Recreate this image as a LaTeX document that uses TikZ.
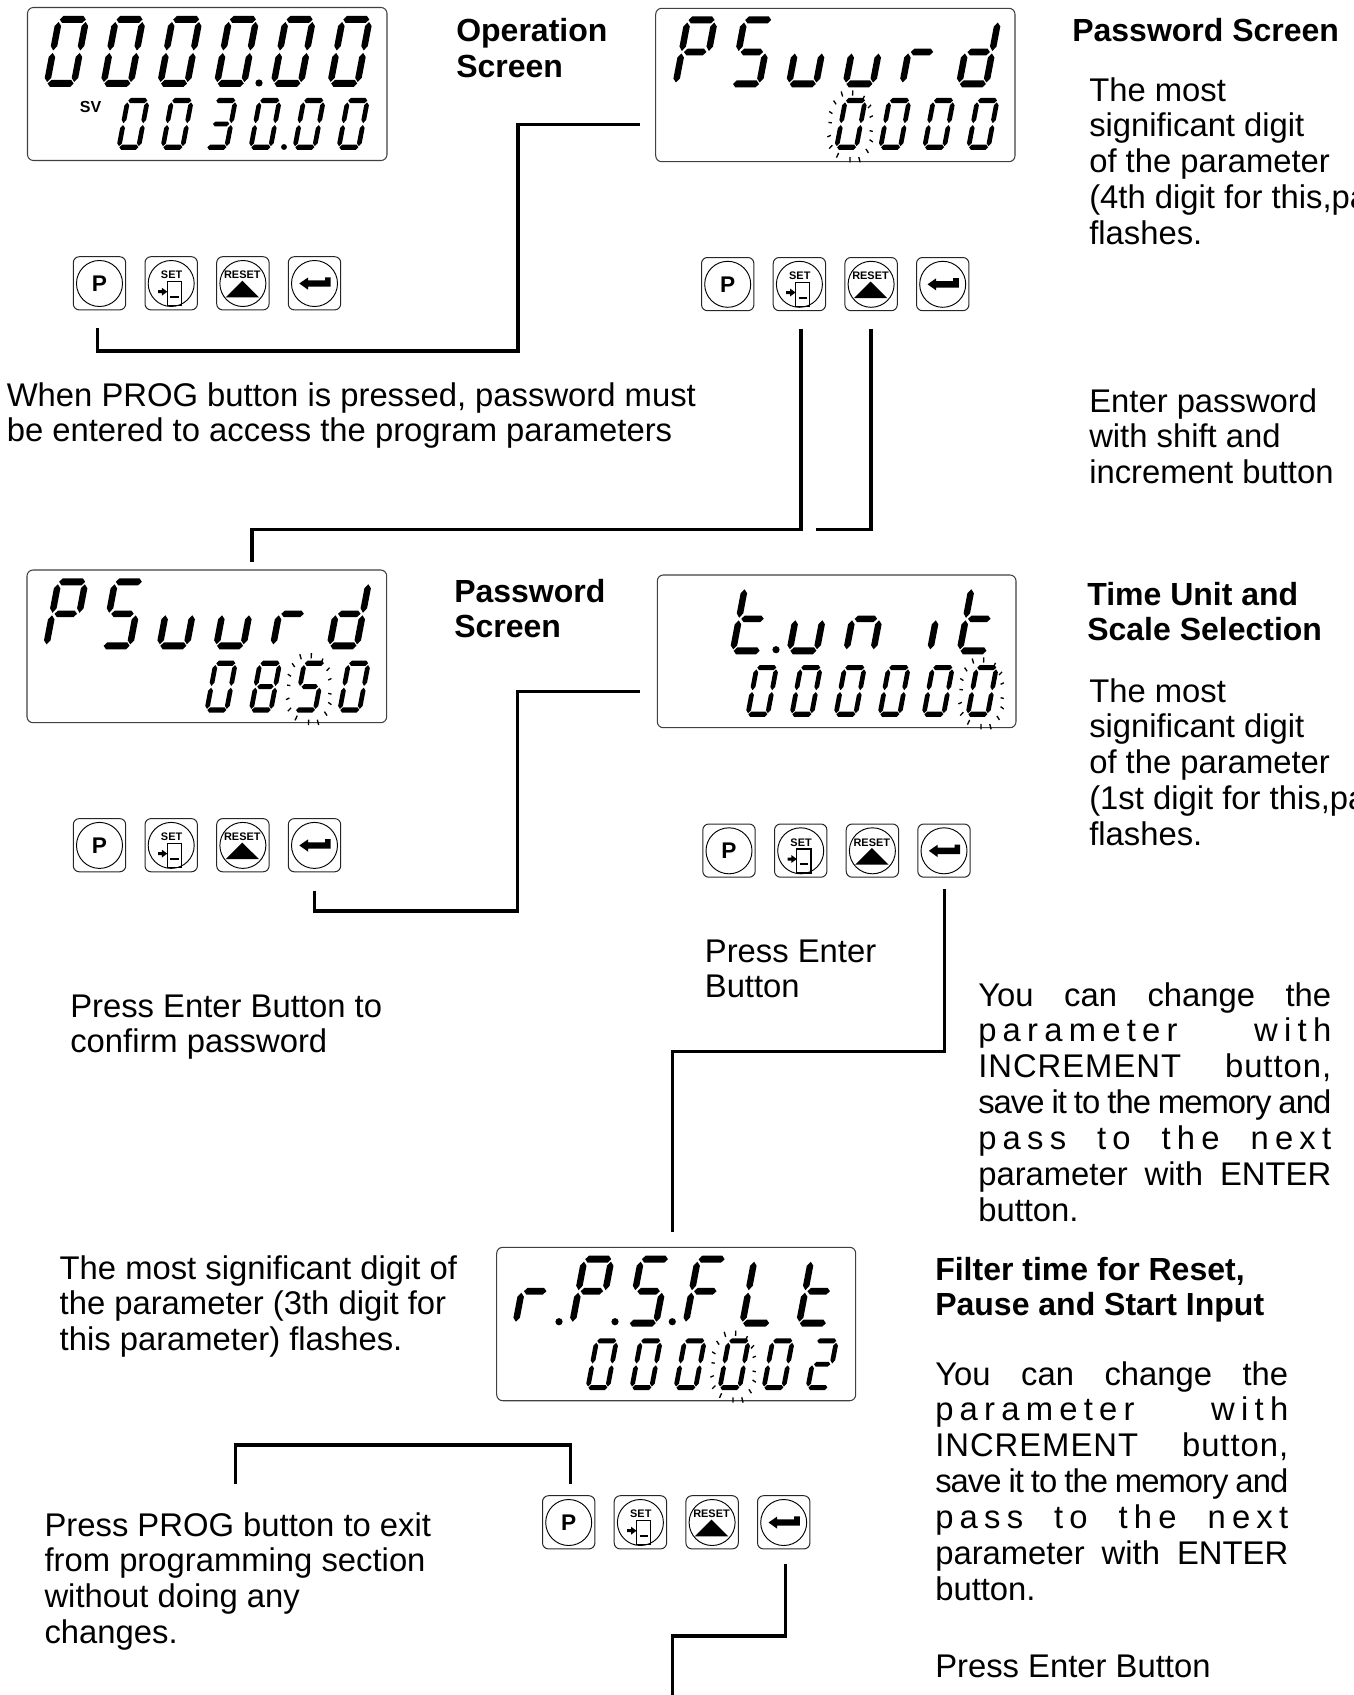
\documentclass[tikz,border=0pt]{standalone}
\usepackage{fontspec}
\setmainfont{Liberation Sans}
\tikzset{
  x=0.75pt,y=-0.75pt,
  segfill/.style={fill=black},
  ray/.style={draw=black,line width=1pt},
  lcdframe/.style={draw=black!75,line width=0.8pt,rounded corners=4.5pt},
  btnframe/.style={draw=black!85,line width=0.75pt,rounded corners=4.5pt},
  btncircle/.style={draw=black,line width=0.7pt},
  conn/.style={draw=black,line width=2.5pt,line join=miter},
  txt/.style={anchor=base west,inner sep=0pt,font=\fontsize{24.6}{30}\selectfont},
  btxt/.style={anchor=base west,inner sep=0pt,font=\fontsize{24}{30}\selectfont\bfseries},
  lbl/.style={inner sep=0pt,font=\fontsize{8.2}{10}\selectfont\bfseries},
  plbl/.style={inner sep=0pt,font=\fontsize{17}{20}\selectfont\bfseries},
}
\newcommand\sga{\fill[segfill] (4,3.5)--(7,0)--(27,0)--(30,3.5)--(27,7)--(7,7)--cycle;}
\newcommand\sgd{\fill[segfill] (4,67.5)--(7,64)--(27,64)--(30,67.5)--(27,71)--(7,71)--cycle;}
\newcommand\sgg{\fill[segfill] (5.5,35.5)--(8.5,32.2)--(25,32.2)--(28,35.5)--(25,38.8)--(8.5,38.8)--cycle;}
\newcommand\sgf{\fill[segfill] (3.25,6)--(6.5,10)--(6.5,30)--(3.25,34.5)--(0,30)--(0,10)--cycle;}
\newcommand\sge{\fill[segfill] (3.25,37)--(6.5,41)--(6.5,62)--(3.25,66)--(0,62)--(0,41)--cycle;}
\newcommand\sgb{\fill[segfill] (30.25,6)--(33.5,10)--(33.5,30)--(30.25,34.5)--(27,30)--(27,10)--cycle;}
\newcommand\sgc{\fill[segfill] (30.25,37)--(33.5,41)--(33.5,62)--(30.25,66)--(27,62)--(27,41)--cycle;}
\newcommand\glyO{\sga\sgb\sgc\sgd\sge\sgf}
\newcommand\glyT{\sga\sgb\sgg\sgc\sgd}
\newcommand\glyE{\sga\sgb\sgc\sgd\sge\sgf\sgg}
\newcommand\glyTw{\sga\sgb\sgg\sge\sgd}
\newcommand\glyP{\sga\sgb\sgf\sgg\sge}
\newcommand\glyS{\sga\sgf\sgg\sgc\sgd}
\newcommand\glyu{\sge\sgd\sgc}
\newcommand\glyr{\sge\sgg}
\newcommand\glyd{\sgb\sgc\sgd\sge\sgg}
\newcommand\glyt{\sgf\sge\sgg\sgd}
\newcommand\glyn{\sge\sgg\sgc}
\newcommand\glyi{\sgc}
\newcommand\glyF{\sga\sgf\sgg\sge}
\newcommand\glyL{\sgf\sge\sgd}
% row: x0, pitch, y, scale, glyph list
\newcommand\lcdrow[5]{%
  \foreach \gl [count=\i from 0] in {#5}{%
    \begin{scope}[shift={({#1+\i*#2},{#3+71*#4})},scale=#4,xslant=0.19,shift={(0,-71)}]
      \gl
    \end{scope}
  }%
}
\newcommand\flash[2]{%
  \foreach \dx/\dy in {-27/-95,5/-98,37/-83,55/-58,60/-28,60/15,60/44,48/74,25/100,-3/100,-40/87,-60/62,-65/30,-62/-10,-60/-40,-48/-70}{%
    \draw[ray] ({#1+\dx/3*0.93},{#2+\dy/3*0.93}) -- ({#1+\dx/3*1.09},{#2+\dy/3*1.09});
  }%
}
\newcommand\btnrow[3]{%
  \begin{scope}[shift={(#2,#3)}]
    \foreach \o in {0,71.7,143.4,215}{%
      \draw[btnframe] (\o,0) rectangle ({\o+52.4},53.2);
      \draw[btncircle] ({\o+26.2},26.8) circle[radius=23*0.75pt];
    }
    \node[plbl] (#1p) at (26.2,27) {P};
    \node[lbl] (#1s) at (98.3,18.3) {SET};
    \draw[line width=1pt,draw=black] (94,25) rectangle (108.3,49);
    \draw[line width=1.5pt,draw=black] (97,40) -- (105.5,40);
    \fill[black] (84.7,33.5)--(88.5,33.5)--(88.5,31)--(94,35)--(88.5,39)--(88.5,36.5)--(84.7,36.5)--cycle;
    \node[lbl] (#1r) at (169,18.3) {RESET};
    \fill[black] (152.4,40.6)--(185.7,40.6)--(169,24)--cycle;
    \fill[black] (226,26.8)--(234.7,20.8)--(234.7,23.7)--(251.7,23.7)--(251.7,20.6)--(257.4,20.6)--(257.4,30)--(234.7,30)--(234.7,33)--cycle;
  \end{scope}%
}
% name, x, first baseline, style, lines
\newcommand\tblock[5]{%
  \foreach \l [count=\i from 0] in {#5}{%
    \node[#4] (#1\i) at (#2,{#3+\i*35.9}) {\l};
  }%
}
\newcommand\js[1]{\makebox[264.75pt][s]{#1}}
\newcommand\wide[1]{\makebox[264.75pt][s]{\addfontfeature{LetterSpace=19}#1}}
\newcommand\tight[1]{\makebox[264.75pt][s]{\addfontfeature{LetterSpace=-3}#1}}
\begin{document}
\begin{tikzpicture}
\useasboundingbox (0,0) rectangle (1353,1695);
% LCD 1
\draw[lcdframe] (27.5,7.5) rectangle (387,160.5);
\lcdrow{43}{56.7}{16}{1}{\glyO,\glyO,\glyO,\glyO,\glyO,\glyO}
\fill (259,83) circle[radius=2.7pt];
\node[inner sep=0pt,font=\fontsize{12}{14}\selectfont\bfseries] (sv) at (90.5,107) {SV};
\lcdrow{116}{44}{98}{0.73}{\glyO,\glyO,\glyT,\glyO,\glyO,\glyO}
\fill (284,147) circle[radius=2.2pt];
% LCD 2
\draw[lcdframe] (655.7,8.3) rectangle (1015,161.7);
\lcdrow{671.7}{56.7}{16.5}{1}{\glyP,\glyS,\glyu,\glyu,\glyr,\glyd}
\lcdrow{833.7}{44}{98}{0.73}{\glyO,\glyO,\glyO,\glyO}
\flash{851}{126}
% LCD 3
\draw[lcdframe] (27,570) rectangle (386.7,722.7);
\lcdrow{42.3}{56.7}{578.3}{1}{\glyP,\glyS,\glyu,\glyu,\glyr,\glyd}
\lcdrow{204}{44.3}{660.7}{0.73}{\glyO,\glyE,\glyS,\glyO}
\flash{309.6}{688.7}
% LCD 4
\draw[lcdframe] (657.3,575) rectangle (1016,727.7);
\lcdrow{729}{56.7}{583.3}{1}{\glyt,\glyu,\glyn,\glyi,\glyt}
\fill (776,649.7) circle[radius=2.7pt];
\lcdrow{745}{44}{665}{0.73}{\glyO,\glyO,\glyO,\glyO,\glyO,\glyO}
\flash{982}{693}
% LCD 5
\draw[lcdframe] (496.7,1247.3) rectangle (855.7,1400.7);
\lcdrow{511.7}{56.7}{1255.7}{1}{\glyr,\glyP,\glyS,\glyF,\glyL,\glyt}
\fill (559,1321.7) circle[radius=2.7pt];
\fill (615,1321.7) circle[radius=2.7pt];
\fill (672.3,1321.7) circle[radius=2.7pt];
\lcdrow{585}{44}{1338.3}{0.73}{\glyO,\glyO,\glyO,\glyO,\glyO,\glyTw}
\flash{734}{1366.3}
% Buttons
\btnrow{ba}{73.3}{256.7}
\btnrow{bb}{701.5}{257.5}
\btnrow{bc}{73.3}{818.6}
\btnrow{bd}{702.8}{824}
\btnrow{be}{542.5}{1495.7}
% Connectors
\coordinate (c1s) at (97.5,328); \coordinate (c1e) at (640,124.3);
\draw[conn] (c1s) |- (518,351) |- (c1e);
\coordinate (c2s) at (801,328.5); \coordinate (c2e) at (252,562);
\draw[conn] (c2s) |- (252,529.5) -- (c2e);
\coordinate (c3s) at (871,328.5); \coordinate (c3e) at (816,529.5);
\draw[conn] (c3s) |- (c3e);
\coordinate (c4s) at (314.5,890.5); \coordinate (c4e) at (640,691.7);
\draw[conn] (c4s) |- (517.7,911) |- (c4e);
\coordinate (c5s) at (944.5,889.4); \coordinate (c5e) at (672.2,1232);
\draw[conn] (c5s) |- (672.2,1051.5) -- (c5e);
\coordinate (c6s) at (235.6,1484); \coordinate (c6e) at (570.6,1484);
\draw[conn] (c6s) |- (570.6,1445) -- (c6e);
\coordinate (c7s) at (785.7,1563.8); \coordinate (c7e) at (672.2,1695);
\draw[conn] (c7s) |- (672.2,1636) -- (c7e);
% Text
\tblock{ta}{456}{42}{btxt}{Operation,Screen}
\tblock{tb}{1072}{42}{btxt}{Password Screen}
\tblock{tc}{1089}{101}{txt}{The most,significant digit,of the parameter,(4th digit for this,parameter),flashes.}
\tblock{td}{1089}{412}{txt}{Enter password,with shift and,increment button}
\tblock{te}{6.5}{406}{txt}{{When PROG button is pressed, password must},be entered to access the program parameters}
\tblock{tf}{454}{602}{btxt}{Password,Screen}
\tblock{tg}{1087}{605}{btxt}{Time Unit and,Scale Selection}
\tblock{th}{1089}{702}{txt}{The most,significant digit,of the parameter,(1st digit for this,parameter),flashes.}
\tblock{ti}{70}{1017}{txt}{Press Enter Button to,confirm password}
\tblock{tj}{704.6}{962}{txt}{Press Enter,Button}
\tblock{tk}{978}{1006}{txt}{\js{You can change the},\wide{parameter with},{\js{\addfontfeature{LetterSpace=3}INCREMENT button,}},\tight{save it to the memory and},\wide{pass to the next},\js{parameter with ENTER},button.}
\tblock{tl}{59.4}{1279}{txt}{The most significant digit of,{the parameter (3th digit for},this parameter) flashes.}
\tblock{tm}{935}{1280}{btxt}{{Filter time for Reset,},Pause and Start Input}
\tblock{tn}{935}{1385}{txt}{\js{You can change the},\wide{parameter with},{\js{\addfontfeature{LetterSpace=3}INCREMENT button,}},\tight{save it to the memory and},\wide{pass to the next},\js{parameter with ENTER},button.}
\tblock{to}{935}{1677}{txt}{Press Enter Button}
\tblock{tp}{44.3}{1536}{txt}{Press PROG button to exit,from programming section,without doing any,changes.}
\end{tikzpicture}
\end{document}
